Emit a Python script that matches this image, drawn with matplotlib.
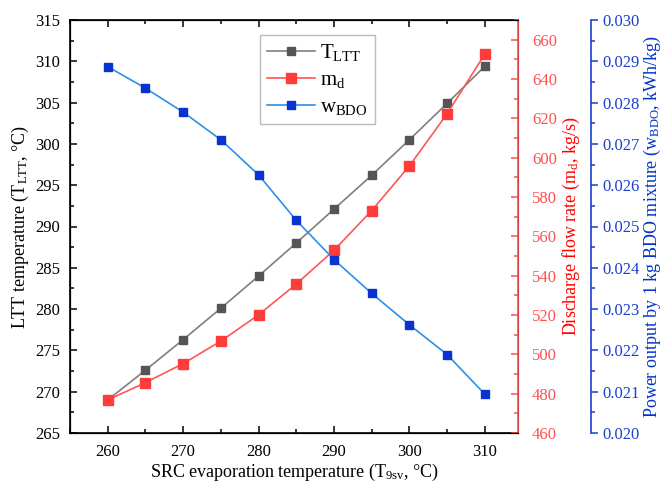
import matplotlib
matplotlib.use("Agg")
import matplotlib.pyplot as plt
from matplotlib.ticker import MultipleLocator, FormatStrFormatter

plt.rcParams["font.family"] = ["Liberation Serif", "DejaVu Serif"]
plt.rcParams["mathtext.fontset"] = "custom"
plt.rcParams["mathtext.rm"] = "Liberation Serif"
plt.rcParams["mathtext.it"] = "Liberation Serif:italic"

# -----------------------------
# Data
# -----------------------------

evap_temp = [260, 265, 270, 275, 280, 285, 290, 295, 300, 305, 310]

t_ltt = [269.0, 272.6, 276.3, 280.1, 284.0, 288.0, 292.1, 296.2, 300.5, 304.9, 309.4]

m_d = [476.8, 485.6, 495.3, 506.7, 520.1, 535.7, 552.9, 573.1, 595.8, 622.3, 652.7]

w_bdo = [0.02887, 0.02835, 0.02777, 0.02710, 0.02625, 0.02515,
         0.02420, 0.02338, 0.02262, 0.02190, 0.02094]

RED = "#ff0000"
RED_TICK = "#ff5050"
BLUE = "#0033cc"
BLUE_TICK = "#1a3fcc"

# -----------------------------
# Figure
# -----------------------------

fig = plt.figure(figsize=(6.67, 4.87), dpi=100)
ax = fig.add_axes([70 / 667, 1 - 433 / 487, 448 / 667, 413 / 487])
ax2 = ax.twinx()
ax3 = ax.twinx()
ax3.spines["right"].set_position(("axes", 1.163))

l1, = ax.plot(evap_temp, t_ltt, color="#7f7f7f", lw=1.2, marker="s",
              ms=6, mfc="#555555", mec="#555555", label=r"T$_\mathregular{LTT}$")
l2, = ax2.plot(evap_temp, m_d, color="#ff5555", lw=1.2, marker="s",
               ms=6.5, mfc="#ff3c3c", mec="#ff3c3c", label=r"m$_\mathregular{d}$")
l3, = ax3.plot(evap_temp, w_bdo, color="#2f8fe6", lw=1.2, marker="s",
               ms=6, mfc="#0a32d2", mec="#0a32d2", label=r"w$_\mathregular{BDO}$")

# left / bottom axis
ax.set_xlim(255, 314.4)
ax.set_ylim(265, 315)
ax.xaxis.set_major_locator(MultipleLocator(10))
ax.xaxis.set_minor_locator(MultipleLocator(5))
ax.yaxis.set_major_locator(MultipleLocator(5))
ax.yaxis.set_minor_locator(MultipleLocator(2.5))
ax.tick_params(axis="x", which="both", direction="in", top=True, labelsize=12, pad=8)
ax.tick_params(axis="y", which="both", direction="in", right=False, labelsize=12, pad=7)
ax.tick_params(which="major", length=5, width=1.1)
ax.tick_params(which="minor", length=3, width=1.1)
for s in ["left", "bottom", "top"]:
    ax.spines[s].set_linewidth(1.2)

# red axis
ax2.set_ylim(460, 670)
ax2.yaxis.set_major_locator(MultipleLocator(20))
ax2.yaxis.set_minor_locator(MultipleLocator(10))
ax2.tick_params(axis="y", which="both", direction="in", colors=RED_TICK,
                labelsize=12, width=1.1, pad=10)
ax2.tick_params(which="major", length=5)
ax2.tick_params(which="minor", length=3)
ax2.spines["right"].set_color(RED_TICK)
ax2.spines["right"].set_linewidth(1.2)

# blue axis
ax3.set_ylim(0.020, 0.030)
ax3.yaxis.set_major_locator(MultipleLocator(0.001))
ax3.yaxis.set_minor_locator(MultipleLocator(0.0005))
ax3.yaxis.set_major_formatter(FormatStrFormatter("%.3f"))
ax3.tick_params(axis="y", which="both", direction="out", colors=BLUE_TICK,
                labelsize=12, width=1.1, pad=3)
ax3.tick_params(which="major", length=5)
ax3.tick_params(which="minor", length=3)
ax3.spines["right"].set_color(BLUE_TICK)
ax3.spines["right"].set_linewidth(1.2)

# labels
ax.set_xlabel(r"SRC evaporation temperature (T$_\mathregular{9sv}$, °C)", fontsize=13, labelpad=1)
ax.set_ylabel(r"LTT temperature (T$_\mathregular{LTT}$, °C)", fontsize=13, labelpad=3)
ax2.set_ylabel(r"Discharge flow rate (m$_\mathregular{d}$, kg/s)", fontsize=13,
               color=RED, labelpad=3)
ax3.set_ylabel(r"Power output by 1 kg BDO mixture (w$_\mathregular{BDO}$, kWh/kg)",
               fontsize=13, color=BLUE, labelpad=2)

leg = ax.legend(handles=[l1, l2, l3], loc="upper left", bbox_to_anchor=(0.424, 0.964),
                fontsize=15, frameon=True, fancybox=False, handlelength=2.3,
                borderpad=0.35, labelspacing=0.35, handletextpad=0.25,
                borderaxespad=0)
leg.get_frame().set_edgecolor("#aaaaaa")
leg.get_frame().set_linewidth(1.0)

fig.savefig("out.png", dpi=100)
